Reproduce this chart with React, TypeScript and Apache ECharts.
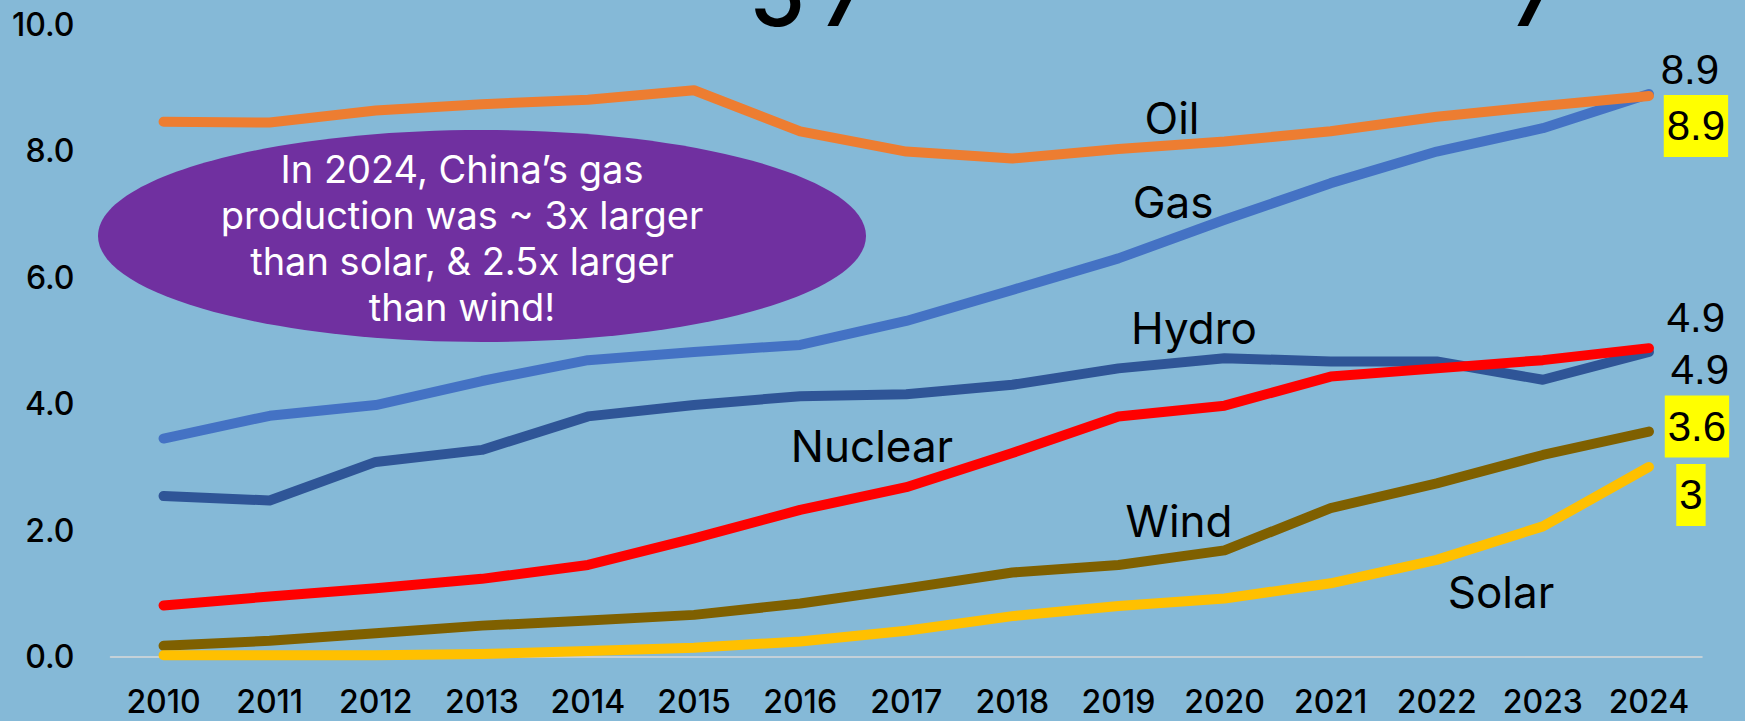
import React, { useEffect, useRef } from "react";
import * as echarts from "echarts";

const years = ["2010","2011","2012","2013","2014","2015","2016","2017","2018","2019","2020","2021","2022","2023","2024"];
const gas = [3.45, 3.81, 3.98, 4.36, 4.69, 4.82, 4.93, 5.31, 5.8, 6.3, 6.91, 7.49, 7.99, 8.36, 8.9];
const oil = [8.46, 8.45, 8.64, 8.74, 8.81, 8.96, 8.31, 7.99, 7.88, 8.03, 8.15, 8.31, 8.54, 8.71, 8.87];
const hydro = [2.54, 2.47, 3.08, 3.27, 3.8, 3.98, 4.12, 4.15, 4.3, 4.56, 4.72, 4.67, 4.67, 4.38, 4.82];
const nuclear = [0.81, 0.95, 1.08, 1.23, 1.45, 1.87, 2.32, 2.68, 3.22, 3.8, 3.97, 4.43, 4.56, 4.69, 4.88];
const wind = [0.17, 0.25, 0.37, 0.49, 0.57, 0.66, 0.84, 1.08, 1.33, 1.45, 1.68, 2.35, 2.74, 3.19, 3.56];
const solar = [0.02, 0.02, 0.02, 0.04, 0.09, 0.14, 0.24, 0.41, 0.64, 0.8, 0.92, 1.16, 1.53, 2.06, 3.0];

const seriesNames = ["Gas", "Oil", "Hydro", "Nuclear", "Wind", "Solar"];
const seriesData = [gas, oil, hydro, nuclear, wind, solar];
const seriesColors = ["#4472C4", "#ED7D31", "#2F5597", "#FF0000", "#7F6000", "#FFC000"];
const endLabelTexts = ["8.9", "8.9", "4.9", "4.9", "3.6", "3"];
const endLabelHighlighted = [false, true, false, false, true, true];
const endLabelOffsets = [[41, -25], [47, 30], [51, 18], [47, -31], [48, -5], [42, 28]];

const yTicks = { min: 0, max: 10, interval: 2 };

const noteLines = [
  "In 2024, China\u2019s gas",
  "production was ~ 3x larger",
  "than solar, & 2.5x larger",
  "than wind!",
];

const nameLabels = [
  { text: "Oil", x: 1172, y: 118 },
  { text: "Gas", x: 1173, y: 202 },
  { text: "Hydro", x: 1194, y: 328 },
  { text: "Nuclear", x: 872, y: 446 },
  { text: "Wind", x: 1179, y: 521 },
  { text: "Solar", x: 1501, y: 592 },
];

const BG = "#85B9D7";
const UI_FONT = "Inter, 'Open Sans', sans-serif";
const NUM_FONT = "'Liberation Sans', Arial, sans-serif";

export default function App() {
  const ref = useRef<HTMLDivElement>(null);

  useEffect(() => {
    document.body.style.margin = "0";
    document.body.style.background = BG;
    const chart = echarts.init(ref.current!, null, { renderer: "svg" });

    const series = seriesNames.map((name, i) => {
      const last = seriesData[i][seriesData[i].length - 1];
      return {
        name,
        type: "line",
        data: seriesData[i],
        showSymbol: false,
        symbol: "none",
        z: 2 + i,
        lineStyle: { color: seriesColors[i], width: 10, cap: "round", join: "round" },
        itemStyle: { color: seriesColors[i] },
        markPoint: {
          silent: true,
          symbol: "circle",
          symbolSize: 0,
          itemStyle: { color: "transparent" },
          data: [{ coord: [years.length - 1, last] }],
          label: {
            show: true,
            position: "inside",
            offset: endLabelOffsets[i],
            formatter: () => endLabelTexts[i],
            fontFamily: NUM_FONT,
            fontSize: 42,
            color: "#000",
            align: "center",
            verticalAlign: "middle",
            lineHeight: 48,
            padding: endLabelHighlighted[i] ? [7, 3] : 0,
            backgroundColor: endLabelHighlighted[i] ? "#FFFF00" : "transparent",
          },
        },
      };
    });

    const graphic: any[] = [
      {
        type: "ellipse",
        shape: { cx: 482, cy: 236, rx: 384, ry: 106 },
        style: { fill: "#7030A0" },
        z: 100,
      },
      {
        type: "text",
        x: 462,
        y: 238,
        z: 101,
        style: {
          text: noteLines.join("\n"),
          fill: "#FFFFFF",
          font: `400 38px ${UI_FONT}`,
          lineHeight: 46,
          align: "center",
          verticalAlign: "middle",
        },
      },
      {
        type: "text",
        x: 777,
        y: -8,
        z: 101,
        style: { text: "5", fill: "#000", font: `500 92px ${UI_FONT}`, align: "center", verticalAlign: "middle" },
      },
      {
        type: "text",
        x: 845,
        y: -8,
        z: 101,
        style: { text: "7", fill: "#000", font: `500 92px ${UI_FONT}`, align: "center", verticalAlign: "middle" },
      },
      {
        type: "text",
        x: 1535,
        y: -8,
        z: 101,
        style: { text: "7", fill: "#000", font: `500 92px ${UI_FONT}`, align: "center", verticalAlign: "middle" },
      },
      ...nameLabels.map((l) => ({
        type: "text",
        x: l.x,
        y: l.y,
        z: 101,
        style: {
          text: l.text,
          fill: "#000",
          font: `400 44px ${UI_FONT}`,
          align: "center",
          verticalAlign: "middle",
        },
      })),
    ];

    chart.setOption({
      animation: false,
      backgroundColor: BG,
      grid: { left: 110.5, right: 43, top: 24.5, bottom: 64.4, containLabel: false },
      xAxis: {
        type: "category",
        data: years,
        boundaryGap: true,
        axisTick: { show: false },
        axisLine: { show: true, lineStyle: { color: "#D9D9D9", width: 1.5 } },
        axisLabel: {
          color: "#000",
          fontFamily: UI_FONT,
          fontWeight: 500,
          fontSize: 32,
          lineHeight: 30,
          margin: 30,
          interval: 0,
        },
        splitLine: { show: false },
      },
      yAxis: {
        type: "value",
        min: yTicks.min,
        max: yTicks.max,
        interval: yTicks.interval,
        axisLine: { show: false },
        axisTick: { show: false },
        splitLine: { show: false },
        axisLabel: {
          color: "#000",
          fontFamily: UI_FONT,
          fontWeight: 500,
          fontSize: 32,
          margin: 36,
          formatter: (v: number) => v.toFixed(1),
        },
      },
      series,
      graphic,
    });

    return () => chart.dispose();
  }, []);

  return (
    <div
      ref={ref}
      style={{ position: "fixed", left: 0, top: 0, width: 1745, height: 721, background: BG }}
    />
  );
}
